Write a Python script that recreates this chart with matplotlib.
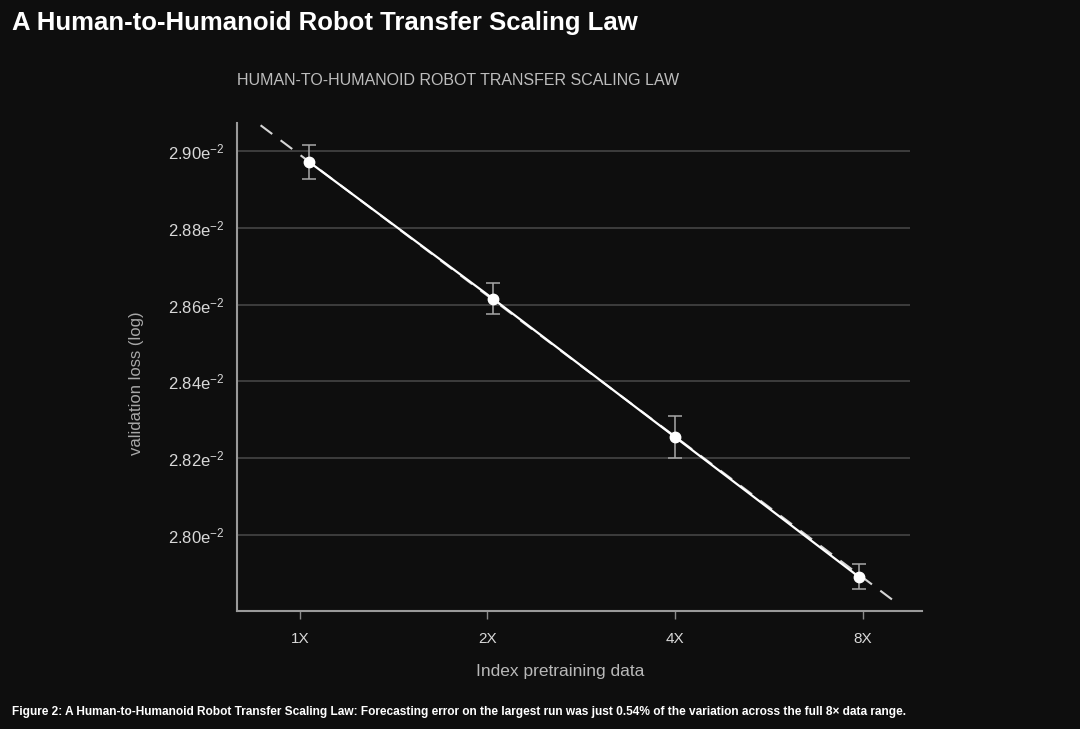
import numpy as np
import matplotlib.pyplot as plt

# data (x in doublings: 0 = 1X, 3 = 8X)
scale_labels = ["1X", "2X", "4X", "8X"]
tick_pos = [0, 1, 2, 3]
run_x = [0.05, 1.03, 2.0, 2.98]
loss = [2.8971, 2.8615, 2.8255, 2.7891]
loss_err = [0.0044, 0.0040, 0.0055, 0.0033]
yticks = [2.80, 2.82, 2.84, 2.86, 2.88, 2.90]

# fitted power law (straight line on these axes)
fit_intercept = 2.8990
fit_slope = -0.03668
fit_range = [-0.21, 3.17]

bg = "#0e0e0e"
plt.rcParams["font.family"] = ["Liberation Sans", "DejaVu Sans"]

fig = plt.figure(figsize=(10.8, 7.29), dpi=100, facecolor=bg)
ax = fig.add_axes([0.2194, 0.1619, 0.6343, 0.6694], facecolor=bg)

# grid lines
ax.hlines(yticks, 0, 0.982, transform=ax.get_yaxis_transform(),
          color="#4a4a4a", lw=1.1, zorder=1)

# dashed fit
fx = np.array(fit_range)
ax.plot(fx, fit_intercept + fit_slope * fx, color="#d5d5d5", lw=1.5,
        dashes=(7, 5), zorder=2)

# measured runs
ax.errorbar(run_x, loss, yerr=loss_err, fmt="none", ecolor="#a8a8a8",
            elinewidth=1.1, capsize=5, capthick=1.1, zorder=3)
ax.plot(run_x, loss, color="white", lw=1.6, marker="o", ms=7.5,
        markeredgecolor="white", zorder=4)

ax.set_xlim(-0.336, 3.317)
ax.set_ylim(2.7802, 2.9073)

ax.set_xticks(tick_pos)
ax.set_xticklabels(scale_labels)
ax.set_yticks(yticks)
ax.set_yticklabels([r"$\mathregular{%.2fe^{-2}}$" % v for v in yticks])

ax.tick_params(axis="x", colors="#8a8a8a", labelcolor="#d8d8d8", length=6,
               width=1, labelsize=11, pad=9)
ax.tick_params(axis="y", length=0, labelcolor="#d8d8d8", labelsize=12, pad=9)

for side in ["top", "right"]:
    ax.spines[side].set_visible(False)
for side in ["left", "bottom"]:
    ax.spines[side].set_color("#9a9a9a")
    ax.spines[side].set_linewidth(1.5)

ax.set_xlabel("Index pretraining data", color="#b8b8b8", fontsize=12.5)
ax.xaxis.set_label_coords(0.4715, -0.108)
ax.set_ylabel("validation loss (log)", color="#a8a8a8", fontsize=12)
ax.yaxis.set_label_coords(-0.135, 0.467)

# titles and caption
fig.text(0.011, 0.969, "A Human-to-Humanoid Robot Transfer Scaling Law",
         color="white", fontsize=18.5, fontweight="bold", va="center")
fig.text(0.2194, 0.889, "HUMAN-TO-HUMANOID ROBOT TRANSFER SCALING LAW",
         color="#bdbdbd", fontsize=11.5, va="center")
fig.text(0.011, 0.023,
         "Figure 2: A Human-to-Humanoid Robot Transfer Scaling Law: Forecasting error on the "
         "largest run was just 0.54% of the variation across the full 8\u00d7 data range.",
         color="white", fontsize=8.6, fontweight="bold", va="center")

plt.savefig("out.png", dpi=100, facecolor=bg)
